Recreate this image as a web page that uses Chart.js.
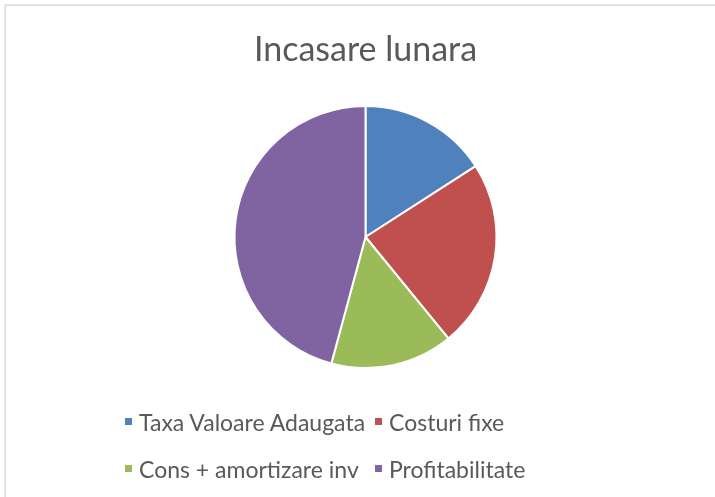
<!DOCTYPE html>
<html>
<head>
<meta charset="utf-8">
<script src="https://cdn.jsdelivr.net/npm/chart.js@4/dist/chart.umd.min.js"></script>
<style>
    html, body { margin: 0; padding: 0; background: #fff; }
    #wrap { position: relative; width: 715px; height: 497px; overflow: hidden; }
    #frame { position: absolute; left: 5px; top: 5px; right: -10px; bottom: -10px; border: 1px solid #d9d9d9; border-width: 1px 0 0 1px; box-shadow: 0 0 0 1px #ececec; }
    canvas { position: absolute; left: 0; top: 0; }
    #legend { position: absolute; left: 125px; top: 398px; display: grid; grid-template-columns: 250px auto; font-family: Lato, "Open Sans", sans-serif; font-size: 23px; color: #595959; }
    #legend .item { display: flex; align-items: center; height: 47px; white-space: nowrap; }
    #legend .box { width: 7px; height: 7px; margin-right: 7px; }
</style>
</head>
<body>
<div id="wrap">
    <div id="frame"></div>
    <canvas id="pie" width="715" height="497"></canvas>
    <div id="legend"></div>
</div>
<script>
    // date (procente aproximative)
    const labels = ['Taxa Valoare Adaugata', 'Costuri fixe', 'Cons + amortizare inv', 'Profitabilitate'];
    const values = [15.9, 23.2, 15.1, 45.8];
    const colors = ['#4F81BD', '#C0504D', '#9BBB59', '#8064A2'];

    const canvas = document.getElementById('pie');

    const chart = new Chart(canvas, {
        type: 'pie',
        data: {
            labels,
            datasets: [{
                data: values,
                backgroundColor: colors,
                borderColor: '#ffffff',
                borderWidth: 2
            }]
        },
        options: {
            responsive: false,
            animation: false,
            layout: { padding: { top: 10, bottom: 128, left: 16, right: 0 } },
            plugins: {
                legend: { display: false },
                tooltip: { enabled: false },
                title: {
                    display: true,
                    text: 'Incasare lunara',
                    color: '#595959',
                    font: { family: 'Lato', size: 34, weight: 'normal', lineHeight: 1.2 },
                    padding: { top: 20, bottom: 34.2 }
                }
            }
        }
    });

    // legenda in doua coloane, ca in Excel
    const legend = document.getElementById('legend');
    chart.data.labels.forEach((lbl, i) => {
        const item = document.createElement('div');
        item.className = 'item';
        const box = document.createElement('span');
        box.className = 'box';
        box.style.background = chart.data.datasets[0].backgroundColor[i];
        item.appendChild(box);
        item.appendChild(document.createTextNode(lbl));
        legend.appendChild(item);
    });
</script>
</body>
</html>
